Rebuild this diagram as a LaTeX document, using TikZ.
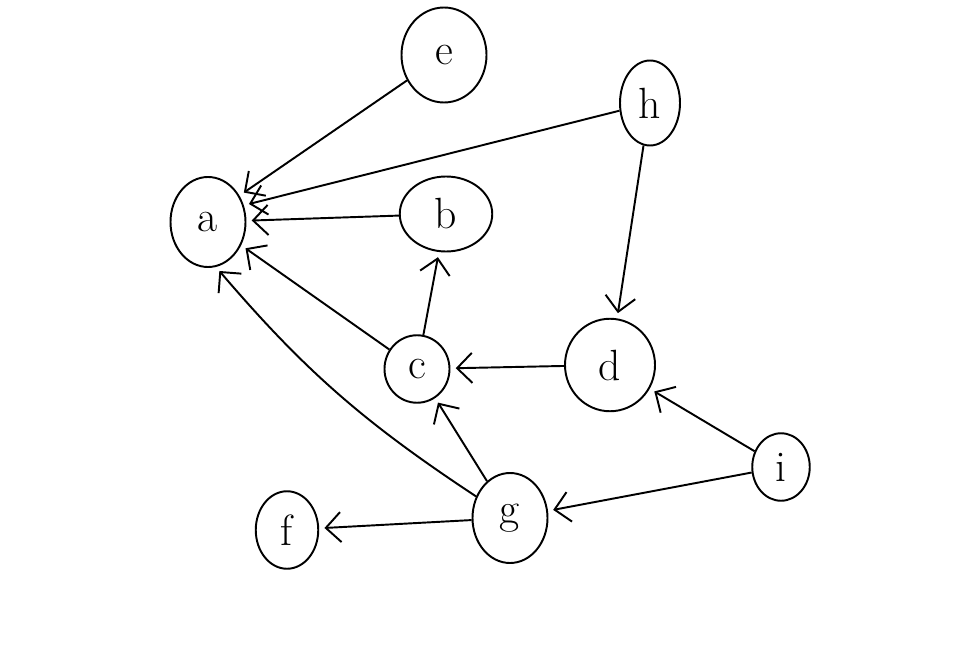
\documentclass[tikz,border=0pt]{standalone}
\usepackage{tikz}
\usetikzlibrary{arrows.meta,shapes.geometric}
\tikzset{vertex/.style={draw,ellipse,line width=1.1pt,inner sep=0pt,font=\Huge}}
\tikzset{edge/.style={draw,line width=1.1pt,-{Straight Barb[length=3mm,width=6mm]},shorten >=3pt}}

\begin{document}
\begin{tikzpicture}
        \useasboundingbox (0,0) rectangle (19.6,12.92);
        \node[vertex,minimum width=1.5cm,minimum height=1.8cm] (a) at (4.16,8.48) {a};
        \node[vertex,minimum width=1.85cm,minimum height=1.5cm] (b) at (8.92,8.64) {b};
        \node[vertex,minimum width=1.3cm,minimum height=1.35cm] (c) at (8.34,5.54) {c};
        \node[vertex,minimum width=1.8cm,minimum height=1.85cm] (d) at (12.2,5.62) {d};
        \node[vertex,minimum width=1.7cm,minimum height=1.9cm] (e) at (8.88,11.82) {e};
        \node[vertex,minimum width=1.2cm,minimum height=1.7cm] (h) at (13.0,10.86) {h};
        \node[vertex,minimum width=1.15cm,minimum height=1.35cm] (i) at (15.62,3.58) {i};
        \node[vertex,minimum width=1.5cm,minimum height=1.8cm] (g) at (10.2,2.56) {g};
        \node[vertex,minimum width=1.25cm,minimum height=1.55cm] (f) at (5.74,2.32) {f};
            \path[edge] (e) -- (a.40);
            \path[edge] (h) -- (a.25);
            \path[edge] (b) -- (a);
            \path[edge] (c) -- (a.-35);
            \path[edge] (g) to[bend left=8] (a.-80);
            \path[edge] (h) -- (d);
            \path[edge] (d) -- (c);
            \path[edge] (c) -- (b);
            \path[edge] (g) -- (c);
            \path[edge] (i) -- (d);
            \path[edge] (i) -- (g);
            \path[edge] (g) -- (f);
    \end{tikzpicture}
\end{document}
